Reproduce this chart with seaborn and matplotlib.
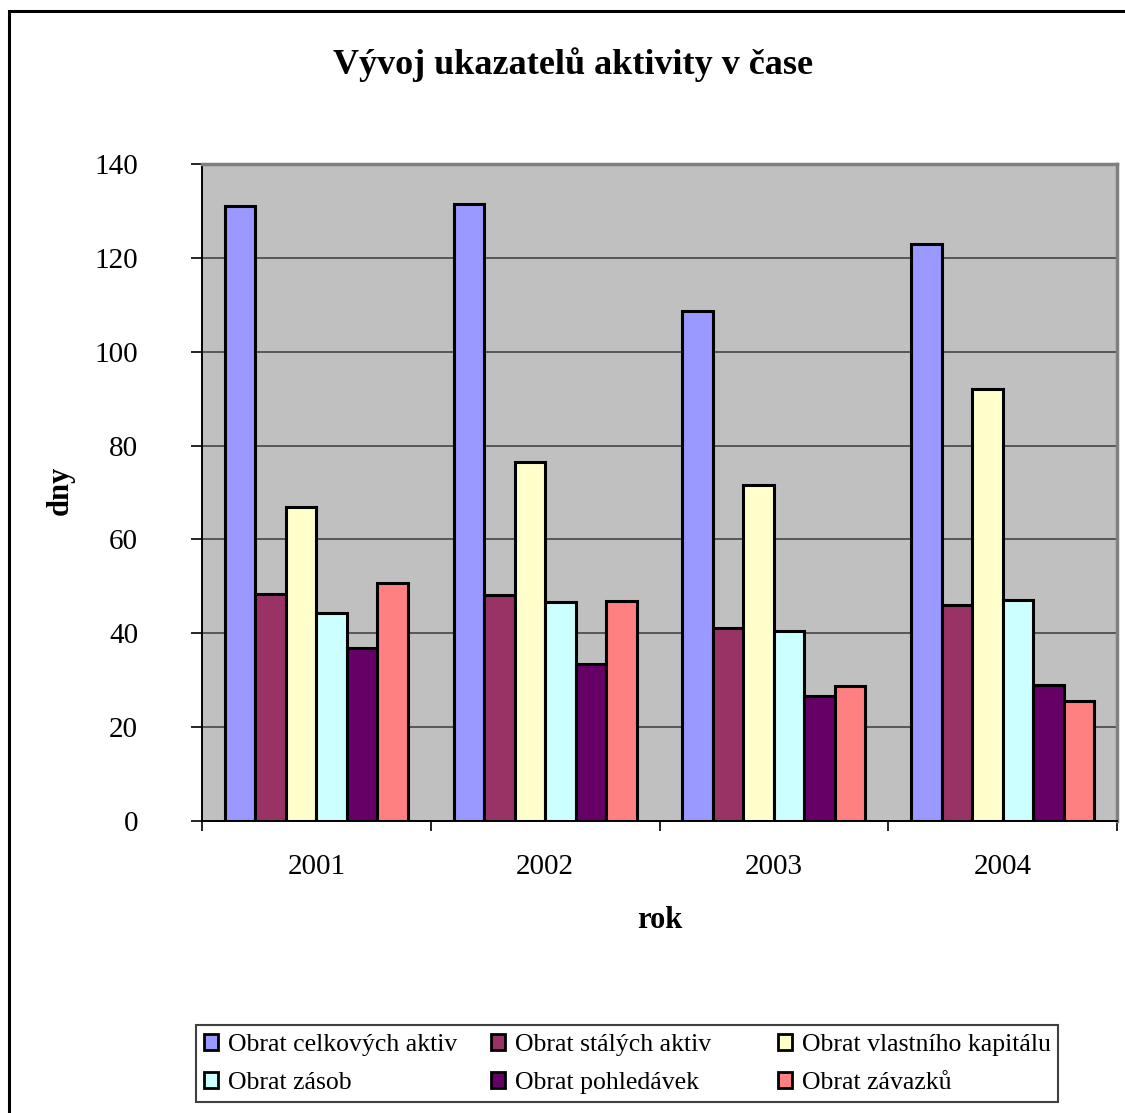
import matplotlib
matplotlib.use("Agg")
import matplotlib.pyplot as plt
from matplotlib.patches import Rectangle
import seaborn as sns
import pandas as pd

# Data
years = ["2001", "2002", "2003", "2004"]
series_names = [
    "Obrat celkových aktiv",
    "Obrat stálých aktiv",
    "Obrat vlastního kapitálu",
    "Obrat zásob",
    "Obrat pohledávek",
    "Obrat závazků",
]
celkovych_aktiv = [131.0, 131.5, 108.6, 122.9]
stalych_aktiv = [48.4, 48.1, 41.1, 46.0]
vlastniho_kapitalu = [66.9, 76.6, 71.6, 92.0]
zasob = [44.4, 46.6, 40.4, 47.0]
pohledavek = [36.8, 33.4, 26.6, 29.0]
zavazku = [50.8, 46.9, 28.8, 25.6]

colors = ["#9999FF", "#993366", "#FFFFCC", "#CCFFFF", "#660066", "#FF8080"]

series_values = [celkovych_aktiv, stalych_aktiv, vlastniho_kapitalu,
                 zasob, pohledavek, zavazku]
rows = []
for name, vals in zip(series_names, series_values):
    for yr, v in zip(years, vals):
        rows.append({"rok": yr, "ukazatel": name, "dny": v})
df = pd.DataFrame(rows)

sns.set_theme(style="white")
plt.rcParams["font.family"] = ["Liberation Serif", "DejaVu Serif"]
plt.rcParams["text.color"] = "black"
plt.rcParams["xtick.color"] = "black"
plt.rcParams["ytick.color"] = "black"
plt.rcParams["axes.labelcolor"] = "black"

W, H = 1125, 1113
fig = plt.figure(figsize=(W / 100, H / 100), dpi=100)
fig.patch.set_facecolor("white")

L, R, T, B = 202, 1117, 164, 821
ax = fig.add_axes([L / W, 1 - B / H, (R - L) / W, (B - T) / H])
ax.set_facecolor("#C0C0C0")

sns.barplot(data=df, x="rok", y="dny", hue="ukazatel", order=years,
            hue_order=series_names, palette=colors, width=0.8, gap=0,
            edgecolor="black", linewidth=2.2, saturation=1, ax=ax,
            legend=False, errorbar=None)

ax.set_xlim(-0.5, 3.5)
ax.set_ylim(0, 140)
ax.set_yticks(range(0, 141, 20))
ax.set_yticklabels([str(v) for v in range(0, 141, 20)], fontsize=21)
ax.yaxis.grid(True, color="#3a3a3a", linewidth=1.1)
ax.set_axisbelow(True)

# category ticks between the year groups
ax.set_xticks(range(4))
ax.set_xticklabels(years, fontsize=21)
ax.set_xticks([-0.5, 0.5, 1.5, 2.5, 3.5], minor=True)
ax.tick_params(axis="x", which="major", length=0, pad=24)
ax.tick_params(axis="x", which="minor", length=7, width=1.2, color="black",
               direction="out", bottom=True)
ax.tick_params(axis="y", which="major", length=8, width=1.2, color="black",
               direction="out", left=True, pad=38)

ax.set_xlabel("")
ax.set_ylabel("")

for side in ["left", "bottom"]:
    ax.spines[side].set_color("black")
    ax.spines[side].set_linewidth(1.4)
for side in ["top", "right"]:
    ax.spines[side].set_color("#808080")
    ax.spines[side].set_linewidth(2.5)

fig.text(573 / W, 1 - 65 / H, "Vývoj ukazatelů aktivity v čase",
         ha="center", va="center", fontsize=26, fontweight="bold")
fig.text(60 / W, 1 - 490 / H, "dny", ha="center", va="center",
         rotation=90, fontsize=22, fontweight="bold")
fig.text(660 / W, 1 - 920 / H, "rok", ha="center", va="center",
         fontsize=22, fontweight="bold")

# legend: three equal-width columns inside one frame
handles = [Rectangle((0, 0), 1, 1, facecolor=c, edgecolor="black",
                     linewidth=2) for c in colors]
col_x = [204, 491, 778]
for c, x in enumerate(col_x):
    lg = fig.legend([handles[c], handles[c + 3]],
                    [series_names[c], series_names[c + 3]],
                    loc="center left", bbox_to_anchor=(x / W, 1 - 1064 / H),
                    fontsize=18.5, frameon=False,
                    handlelength=0.55, handleheight=0.55, handletextpad=0.38,
                    labelspacing=0.62, borderpad=0, borderaxespad=0)
fig.patches.append(Rectangle((196 / W, 1 - 1102 / H), (1058 - 196) / W,
                             (1102 - 1025) / H, transform=fig.transFigure,
                             fill=False, edgecolor="#404040", linewidth=1.5))

# chart area border
fig.patches.append(Rectangle((9 / W, -0.01), 1.02, 1 - 11 / H + 0.01,
                             transform=fig.transFigure, fill=False,
                             edgecolor="black", linewidth=2.2))

fig.savefig("out.png", dpi=100, facecolor="white")
